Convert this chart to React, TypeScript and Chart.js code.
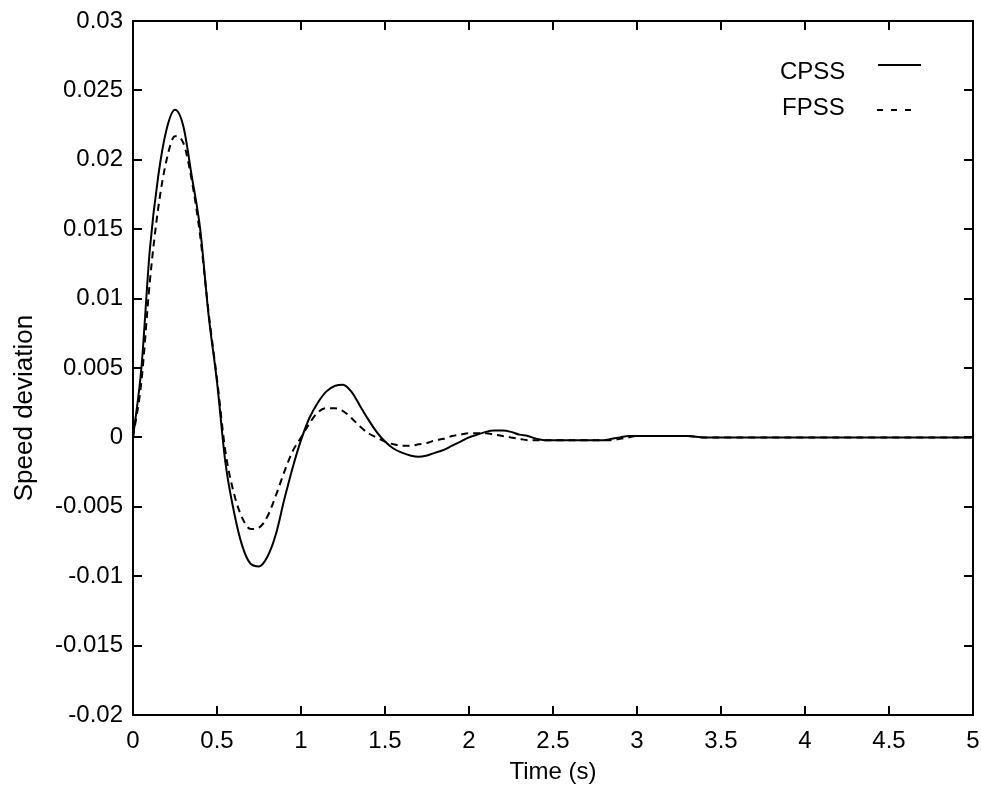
import React, { useEffect, useRef } from "react";
import { Chart, registerables } from "chart.js";

Chart.register(...registerables);

const times = [
  0, 0.05, 0.1, 0.15, 0.2, 0.25, 0.3, 0.35, 0.4, 0.45,
  0.5, 0.55, 0.6, 0.65, 0.7, 0.75, 0.8, 0.85, 0.9, 0.95,
  1.0, 1.05, 1.1, 1.15, 1.2, 1.25, 1.3, 1.35, 1.4, 1.45,
  1.5, 1.55, 1.6, 1.65, 1.7, 1.75, 1.8, 1.85, 1.9, 1.95,
  2.0, 2.05, 2.1, 2.15, 2.2, 2.25, 2.3, 2.35, 2.4, 2.45,
  2.5, 2.55, 2.6, 2.65, 2.7, 2.75, 2.8, 2.85, 2.9, 2.95,
  3.0, 3.1, 3.2, 3.3, 3.4, 3.5, 3.6, 3.7, 3.8, 3.9,
  4.0, 4.1, 4.2, 4.3, 4.4, 4.5, 4.6, 4.7, 4.8, 4.9, 5.0,
];

const cpss = [
  0, 0.005, 0.0135, 0.0188, 0.0222, 0.0236, 0.0224, 0.0188, 0.015, 0.0088,
  0.004, -0.0018, -0.0053, -0.0078, -0.0091, -0.0093, -0.0086, -0.007, -0.0045, -0.0022,
  -0.0002, 0.0014, 0.0025, 0.0033, 0.0037, 0.0038, 0.0033, 0.0023, 0.0013, 0.0004,
  -0.0003, -0.0008, -0.0011, -0.0013, -0.0014, -0.0013, -0.0011, -0.0009, -0.0006, -0.0003,
  0.0, 0.0002, 0.0004, 0.0005, 0.0005, 0.0004, 0.0002, 0.0001, -0.0001, -0.0002,
  -0.0002, -0.0002, -0.0002, -0.0002, -0.0002, -0.0002, -0.0002, -0.0001, 0.0, 0.0001,
  0.0001, 0.0001, 0.0001, 0.0001, 0, 0, 0, 0, 0, 0,
  0, 0, 0, 0, 0, 0, 0, 0, 0, 0, 0,
];

const fpss = [
  0, 0.004, 0.0112, 0.0165, 0.02, 0.0217, 0.0212, 0.0185, 0.0145, 0.009,
  0.0042, -0.001, -0.004, -0.0058, -0.0066, -0.0065, -0.0057, -0.0042, -0.0025, -0.001,
  0.0, 0.001, 0.0018, 0.0021, 0.0021, 0.0019, 0.0014, 0.0008, 0.0003, 0.0,
  -0.0003, -0.0005, -0.0006, -0.0006, -0.0005, -0.0004, -0.0002, -0.0001, 0.0001, 0.0002,
  0.0003, 0.0003, 0.0003, 0.0002, 0.0001, 0.0, -0.0001, -0.0002, -0.0002, -0.0002,
  -0.0002, -0.0002, -0.0002, -0.0002, -0.0002, -0.0002, -0.0002, -0.0002, -0.0001, 0.0,
  0.0001, 0.0001, 0.0001, 0.0001, 0, 0, 0, 0, 0, 0,
  0, 0, 0, 0, 0, 0, 0, 0, 0, 0, 0,
];

const xTicks = [0, 0.5, 1, 1.5, 2, 2.5, 3, 3.5, 4, 4.5, 5];
const xTickLabels = ["0", "0.5", "1", "1.5", "2", "2.5", "3", "3.5", "4", "4.5", "5"];
const yTicks = [0.03, 0.025, 0.02, 0.015, 0.01, 0.005, 0, -0.005, -0.01, -0.015, -0.02];
const yTickLabels = ["0.03", "0.025", "0.02", "0.015", "0.01", "0.005", "0", "-0.005", "-0.01", "-0.015", "-0.02"];

const seriesNames = ["CPSS", "FPSS"];
const xTitle = "Time (s)";
const yTitle = "Speed deviation";

const FONT = "'Liberation Sans', Arial, sans-serif";

function labelFor(v: number, ticks: number[], labels: string[]) {
  const i = ticks.findIndex((t) => Math.abs(t - v) < 1e-9);
  return i >= 0 ? labels[i] : "";
}

const framePlugin = {
  id: "frame",
  afterDraw(chart: any) {
    const { ctx, chartArea } = chart;
    const { left, right, top, bottom } = chartArea;
    const xs = chart.scales.x;
    const ys = chart.scales.y;
    ctx.save();
    ctx.strokeStyle = "#000";
    ctx.lineWidth = 2;
    ctx.setLineDash([]);
    ctx.strokeRect(left, top, right - left, bottom - top);
    const tl = 9;
    ctx.beginPath();
    xTicks.forEach((v) => {
      const px = Math.round(xs.getPixelForValue(v));
      ctx.moveTo(px, bottom);
      ctx.lineTo(px, bottom - tl);
      ctx.moveTo(px, top);
      ctx.lineTo(px, top + tl);
    });
    yTicks.forEach((v) => {
      const py = Math.round(ys.getPixelForValue(v));
      ctx.moveTo(left, py);
      ctx.lineTo(left + tl, py);
      ctx.moveTo(right, py);
      ctx.lineTo(right - tl, py);
    });
    ctx.stroke();

    // y axis title
    ctx.fillStyle = "#000";
    ctx.font = `26px ${FONT}`;
    ctx.textAlign = "center";
    ctx.textBaseline = "middle";
    ctx.translate(25, 408);
    ctx.rotate(-Math.PI / 2);
    ctx.fillText(yTitle, 0, 0);
    ctx.restore();

    // legend
    ctx.save();
    ctx.fillStyle = "#000";
    ctx.strokeStyle = "#000";
    ctx.font = `24px ${FONT}`;
    ctx.textAlign = "left";
    ctx.textBaseline = "middle";
    ctx.fillText(seriesNames[0], 780, 72);
    ctx.fillText(seriesNames[1], 782, 108);
    ctx.lineWidth = 2;
    ctx.beginPath();
    ctx.moveTo(878, 65);
    ctx.lineTo(921, 65);
    ctx.stroke();
    ctx.setLineDash([6, 8]);
    ctx.beginPath();
    ctx.moveTo(877, 110);
    ctx.lineTo(911, 110);
    ctx.stroke();
    ctx.restore();
  },
};

export default function App() {
  const ref = useRef<HTMLCanvasElement | null>(null);
  useEffect(() => {
    document.body.style.margin = "0";
    const canvas = ref.current;
    if (!canvas) return;
    const chart = new Chart(canvas, {
      type: "line",
      data: {
        datasets: [
          {
            label: seriesNames[1],
            data: times.map((t, i) => ({ x: t, y: fpss[i] })),
            borderColor: "#000",
            borderWidth: 2,
            borderDash: [7, 5],
            pointRadius: 0,
            cubicInterpolationMode: "monotone",
            fill: false,
          },
          {
            label: seriesNames[0],
            data: times.map((t, i) => ({ x: t, y: cpss[i] })),
            borderColor: "#000",
            borderWidth: 2,
            pointRadius: 0,
            cubicInterpolationMode: "monotone",
            fill: false,
          },
        ],
      },
      options: {
        responsive: false,
        animation: false,
        devicePixelRatio: 1,
        layout: { padding: { top: 21, right: 8, left: 0, bottom: 0 } },
        plugins: {
          legend: { display: false },
          tooltip: { enabled: false },
        },
        scales: {
          x: {
            type: "linear",
            min: 0,
            max: 5,
            afterBuildTicks: (s: any) => {
              s.ticks = xTicks.map((v) => ({ value: v }));
            },
            afterFit: (s: any) => {
              s.height = 77;
              s.paddingLeft = 0;
              s.paddingRight = 0;
            },
            grid: { display: false, drawTicks: false },
            border: { display: false },
            ticks: {
              autoSkip: false,
              maxRotation: 0,
              padding: 12,
              color: "#000",
              font: { family: FONT, size: 24 },
              callback: (v: any) => labelFor(Number(v), xTicks, xTickLabels),
            },
            title: {
              display: true,
              text: xTitle,
              color: "#000",
              font: { family: FONT, size: 24 },
              padding: { top: 0, bottom: 5 },
            },
          },
          y: {
            type: "linear",
            min: -0.02,
            max: 0.03,
            afterBuildTicks: (s: any) => {
              s.ticks = yTicks.map((v) => ({ value: v }));
            },
            afterFit: (s: any) => {
              s.width = 133;
              s.paddingTop = 0;
              s.paddingBottom = 0;
            },
            grid: { display: false, drawTicks: false },
            border: { display: false },
            ticks: {
              autoSkip: false,
              padding: 10,
              color: "#000",
              font: { family: FONT, size: 24 },
              callback: (v: any) => labelFor(Number(v), yTicks, yTickLabels),
            },
          },
        },
      },
      plugins: [framePlugin],
    } as any);
    return () => chart.destroy();
  }, []);
  return (
    <div style={{ position: "absolute", left: 0, top: 0, width: 981, height: 792, background: "#fff" }}>
      <canvas ref={ref} width={981} height={792} />
    </div>
  );
}
